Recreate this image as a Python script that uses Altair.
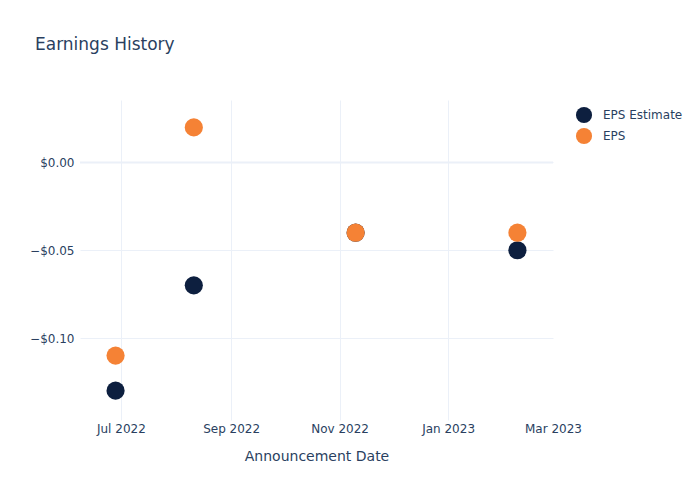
import altair as alt
import pandas as pd

dates = ["2022-06-28", "2022-08-11", "2022-11-10", "2023-02-09"]
eps_estimate = [-0.13, -0.07, -0.04, -0.05]
eps_actual = [-0.11, 0.02, -0.04, -0.04]
series_names = ["EPS Estimate", "EPS"]
series_colors = ["#0d1f3f", "#f58235"]

rows = []
for d, v in zip(dates, eps_estimate):
    rows.append({"date": d, "value": v, "series": "EPS Estimate"})
for d, v in zip(dates, eps_actual):
    rows.append({"date": d, "value": v, "series": "EPS"})
df = pd.DataFrame(rows)

text_color = "#2a3f5f"
grid_color = "#ebf0f8"
font = "DejaVu Sans"

x_ticks = [
    alt.DateTime(year=2022, month=7, date=1),
    alt.DateTime(year=2022, month=9, date=1),
    alt.DateTime(year=2022, month=11, date=1),
    alt.DateTime(year=2023, month=1, date=1),
    alt.DateTime(year=2023, month=3, date=1),
]

y_scale = alt.Scale(domain=[-0.1467, 0.0356], nice=False, zero=False)
y_axis = alt.Axis(values=[-0.1, -0.05, 0.0], format="$.2f", labelFontSize=12,
                  labelColor=text_color, ticks=False, domain=False, labelPadding=6,
                  gridColor=grid_color, labelFont=font)

x_enc = alt.X(
    "date:T",
    title="Announcement Date",
    scale=alt.Scale(domain=[alt.DateTime(year=2022, month=6, date=8),
                            alt.DateTime(year=2023, month=3, date=1)]),
    axis=alt.Axis(values=x_ticks, format="%b %Y", labelFontSize=12, labelColor=text_color,
                  titleFontSize=14, titleColor=text_color, titleFontWeight="normal",
                  titlePadding=15, labelPadding=3, ticks=False, domain=False,
                  labelFlush=False,
                  gridColor=alt.condition("month(datum.value) == 2 && year(datum.value) == 2023",
                                          alt.value("transparent"), alt.value(grid_color)),
                  labelFont=font, titleFont=font),
)

zero = alt.Chart(pd.DataFrame({"z": [0.0]})).mark_rule(color=grid_color, strokeWidth=2).encode(
    y=alt.Y("z:Q", scale=y_scale, axis=y_axis, title=None)
)

points = alt.Chart(df).mark_circle(size=330, opacity=1).encode(
    x=x_enc,
    y=alt.Y("value:Q", title=None, scale=y_scale, axis=y_axis),
    color=alt.Color("series:N", scale=alt.Scale(domain=series_names, range=series_colors),
                    sort=series_names,
                    legend=alt.Legend(title=None, orient="none", legendX=495, legendY=6,
                                      symbolSize=260, symbolType="circle", labelFontSize=12,
                                      labelColor=text_color, labelFont=font, labelOffset=10,
                                      rowPadding=3, symbolOpacity=1)),
    order=alt.Order("series:N", sort="descending"),
)

chart = (
    alt.layer(zero, points)
    .properties(
        width=473,
        height=320,
        title=alt.TitleParams("Earnings History", anchor="start", frame="group", dx=-45, offset=46,
                              fontSize=17, fontWeight="normal", color=text_color, font=font),
        autosize=alt.AutoSizeParams(type="none"),
        padding={"left": 80, "top": 100, "right": 147, "bottom": 80},
        view=alt.ViewBackground(stroke="transparent", strokeWidth=0),
    )
    .configure_view(stroke="transparent", strokeWidth=0)
    .configure(background="white")
)

chart.save("out.html", embed_options={"renderer": "svg", "actions": False})
